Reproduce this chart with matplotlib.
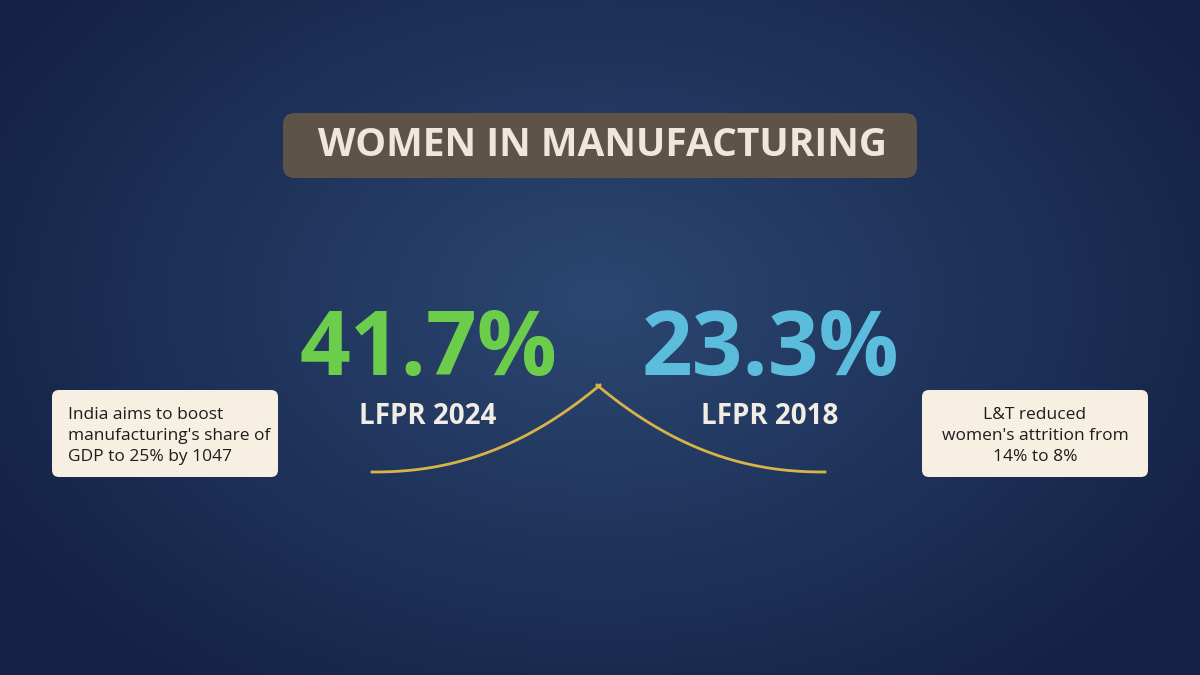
import numpy as np
import matplotlib.pyplot as plt
from matplotlib.patches import FancyBboxPatch

title = "WOMEN IN MANUFACTURING"
values = [41.7, 23.3]
labels = ["LFPR 2024", "LFPR 2018"]
value_colors = ["#6ccd4c", "#5bbddb"]
left_note = "India aims to boost\nmanufacturing's share of\nGDP to 25% by 1047"
right_note = "L&T reduced\nwomen's attrition from\n14% to 8%"

fig = plt.figure(figsize=(12, 6.75), dpi=100)
ax = fig.add_axes([0, 0, 1, 1])
ax.set_xlim(0, 1200)
ax.set_ylim(675, 0)
ax.axis("off")

# radial background
yy, xx = np.mgrid[0:675, 0:1200]
r = np.sqrt(((xx - 600) / 700) ** 2 + ((yy - 300) / 480) ** 2)
r = np.clip(r, 0, 1)
c0 = np.array([0x2c, 0x47, 0x72]) / 255
c1 = np.array([0x14, 0x22, 0x45]) / 255
img = c0[None, None, :] * (1 - r[..., None]) + c1[None, None, :] * r[..., None]
ax.imshow(img, extent=[0, 1200, 675, 0], zorder=0)

# title box
ax.add_patch(FancyBboxPatch((283, 113), 634, 65, boxstyle="round,pad=0,rounding_size=12",
                            fc="#5d5348", ec="none", zorder=2))
ax.text(603, 146, title, ha="center", va="center", fontsize=28, fontweight="bold",
        family="Open Sans", color="#f1e7d8", zorder=3)

# big numbers and labels
xs = [428, 770]
for x, v, lab, col in zip(xs, values, labels, value_colors):
    ax.text(x, 352, f"{v}%", ha="center", va="center", fontsize=64, fontweight="bold",
            family="Open Sans", color=col, zorder=3)
    ax.text(x, 417, lab, ha="center", va="center", fontsize=20, fontweight="bold",
            family="Open Sans", color="#f1ece4", zorder=3)

# gold cusp curve
t = np.linspace(0, 1, 100)
lx = 372 + (600 - 372) * t
ly = 472 - 87 * t ** 2.2
ax.plot(lx, ly, color="#d8b446", lw=2, zorder=3)
ax.plot(1197 - lx, ly, color="#d8b446", lw=2, zorder=3)

# note boxes
for bx, note, ha, tx in [(52, left_note, "left", 68), (922, right_note, "center", 1035)]:
    box = FancyBboxPatch((bx, 390), 226, 87, boxstyle="round,pad=0,rounding_size=7",
                         fc="#f6efe2", ec="none", zorder=2)
    ax.add_patch(box)
    txt = ax.text(tx, 436, note, ha=ha, va="center", fontsize=12.5, family="Open Sans",
                  color="#1d1d1d", linespacing=1.4, zorder=3)
    txt.set_clip_path(box)

fig.savefig("out.png", dpi=100)
